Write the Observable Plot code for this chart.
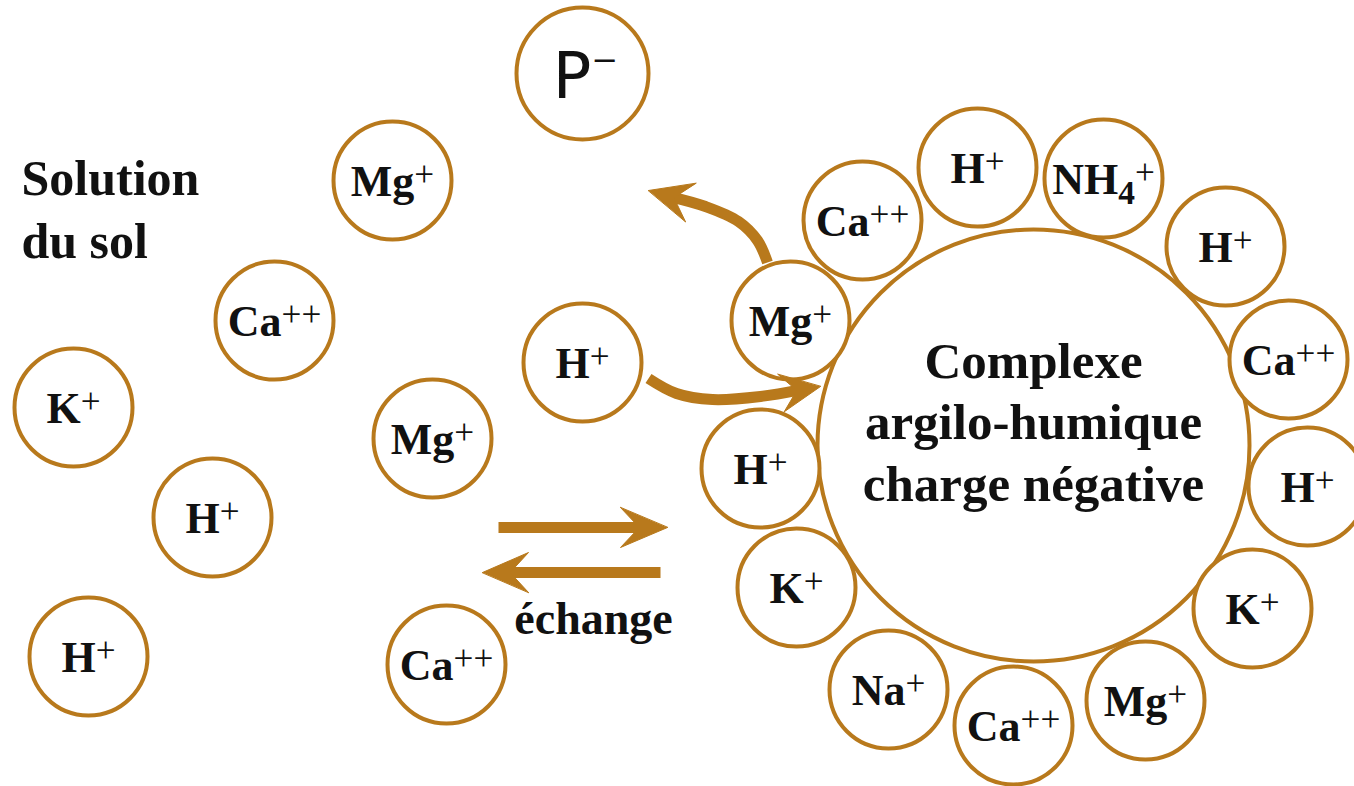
<!DOCTYPE html>
<html><head><meta charset="utf-8">
<script src="https://cdn.jsdelivr.net/npm/d3@7"></script>
<script src="https://cdn.jsdelivr.net/npm/@observablehq/plot@0.6"></script>
<style>body{margin:0;background:#fff}</style>
</head><body><div id="chart"></div>
<script>
// Ions dissolved in the soil solution (left part)
const solutionIons = ["Mg^+","Ca^++","K^+","H^+","H^+","Mg^+","H^+","Ca^++"];
const solutionX = [392, 274, 73, 212, 88, 432, 582, 446];
const solutionY = [180, 320, 407, 517, 656, 438, 362, 664];

// Ions adsorbed around the clay-humus complex
const ringIons = ["Mg^+","Ca^++","H^+","NH_4^+","H^+","Ca^++","H^+","K^+","Mg^+","Ca^++","Na^+","K^+","H^+"];
const ringX = [790, 862, 977, 1103, 1225, 1288, 1307, 1252, 1145, 1013, 888, 796, 760];
const ringY = [320, 220, 167, 178, 246, 359, 486, 608, 700, 725, 689, 587, 468];

// Complex and phosphate anion
const complexX = [1033], complexY = [445];
const complexLabel = ["Complexe\nargilo-humique\ncharge négative"];
const phosphateLabel = ["P^−"], phosphateX = [582], phosphateY = [73];

// Titles
const solutionTitle = ["Solution\ndu sol"];
const exchangeLabel = ["échange"];

// Arrows (paths end at the tip)
const arrowIds = ["out", "in", "forward", "back"];
const arrowPaths = [
  [[767,262],[757,240],[738,221],[705,206],[648,190]],
  [[648,378],[676,393],[712,399],[760,396],[820,386]],
  [[498,527],[667,527]],
  [[660,572],[482,572]]
];
const headLength = [44, 40, 47, 46];
const headWidth = [20, 19, 20, 20];

const color = "#b8791c";
const ink = "#111";

const circles = (labels, xs, ys) => labels.map((l, i) => ({label: l, x: xs[i], y: ys[i]}));
const solution = circles(solutionIons, solutionX, solutionY);
const ring = circles(ringIons, ringX, ringY);
const complex = circles(complexLabel, complexX, complexY);
const phosphate = circles(phosphateLabel, phosphateX, phosphateY);

// Build shafts and heads
const shafts = [], heads = [];
arrowPaths.forEach((pts, i) => {
  const id = arrowIds[i];
  const tip = pts[pts.length - 1], prev = pts[pts.length - 2];
  let dx = tip[0] - prev[0], dy = tip[1] - prev[1];
  const len = Math.hypot(dx, dy); dx /= len; dy /= len;
  const nx = -dy, ny = dx;
  const L = headLength[i], W = headWidth[i];
  const end = [tip[0] - 0.55 * L * dx, tip[1] - 0.55 * L * dy];
  pts.slice(0, -1).forEach(p => shafts.push({id, x: p[0], y: p[1]}));
  shafts.push({id, x: end[0], y: end[1]});
  const poly = [
    tip,
    [tip[0] - L * dx + W * nx, tip[1] - L * dy + W * ny],
    [tip[0] - 0.6 * L * dx, tip[1] - 0.6 * L * dy],
    [tip[0] - L * dx - W * nx, tip[1] - L * dy - W * ny]
  ];
  poly.forEach(p => heads.push({id, x: p[0], y: p[1]}));
});

const serif = "'Liberation Serif', 'Times New Roman', serif";

const chart = Plot.plot({
  width: 1354,
  height: 786,
  margin: 0,
  style: {background: "#fff"},
  x: {domain: [0, 1354], range: [0, 1354], axis: null},
  y: {domain: [0, 786], range: [0, 786], axis: null},
  marks: [
    Plot.dot(complex, {x: "x", y: "y", r: 216, fill: "#fff", stroke: color, strokeWidth: 4}),
    Plot.dot(ring, {x: "x", y: "y", r: 59, fill: "#fff", stroke: color, strokeWidth: 4}),
    Plot.dot(solution, {x: "x", y: "y", r: 59, fill: "#fff", stroke: color, strokeWidth: 4}),
    Plot.dot(phosphate, {x: "x", y: "y", r: 66, fill: "#fff", stroke: color, strokeWidth: 4}),
    Plot.line(shafts, {x: "x", y: "y", z: "id", stroke: color, strokeWidth: 11, strokeLinecap: "butt", curve: "catmull-rom"}),
    Plot.line(heads, {x: "x", y: "y", z: "id", fill: color, stroke: color, strokeWidth: 1, curve: "linear-closed"}),
    Plot.text(ring.concat(solution), {x: "x", y: (d) => d.y + 15, text: "label", fontFamily: serif, fontWeight: "bold", fontSize: 44, fill: ink, textAnchor: "middle", lineAnchor: "bottom"}),
    Plot.text(phosphate, {x: (d) => d.x + 3, y: (d) => d.y + 24, text: "label", fontFamily: "'DejaVu Sans', sans-serif", fontSize: 64, fill: ink, textAnchor: "middle", lineAnchor: "bottom"}),
    Plot.text(complex, {x: "x", y: (d) => d.y + 55, text: "label", fontFamily: serif, fontWeight: "bold", fontSize: 51, lineHeight: 1.2, fill: ink, textAnchor: "middle", lineAnchor: "bottom"}),
    Plot.text(solutionTitle, {x: 21, y: 257, text: (d) => d, fontFamily: serif, fontWeight: "bold", fontSize: 50, lineHeight: 1.26, fill: ink, textAnchor: "start", lineAnchor: "bottom"}),
    Plot.text(exchangeLabel, {x: 593, y: 633, text: (d) => d, fontFamily: serif, fontWeight: "bold", fontSize: 46, fill: ink, textAnchor: "middle", lineAnchor: "bottom"})
  ]
});

// Superscripts / subscripts as real tspans
function script(el, fs, supShift, supSize, subShift, subSize) {
  const s = el.textContent;
  const m = s.match(/^[^_^]+/);
  if (!m) return;
  const base = m[0];
  const tokens = [...s.slice(base.length).matchAll(/([_^])([^_^]+)/g)];
  if (!tokens.length) return;
  while (el.firstChild) el.removeChild(el.firstChild);
  el.appendChild(document.createTextNode(base));
  let cur = 0;
  tokens.forEach(t => {
    const sup = t[1] === "^";
    const target = sup ? -supShift * fs : subShift * fs;
    const ts = document.createElementNS("http://www.w3.org/2000/svg", "tspan");
    ts.setAttribute("font-size", (sup ? supSize : subSize) * fs);
    if (sup) ts.setAttribute("font-weight", "normal");
    ts.setAttribute("dy", target - cur);
    ts.textContent = t[2];
    el.appendChild(ts);
    cur = target;
  });
}
chart.querySelectorAll("text").forEach(el => {
  const s = el.textContent;
  if (!/[_^]/.test(s)) return;
  if (s.startsWith("P")) script(el, 64, 0.42, 0.5, 0, 1);
  else script(el, 44, 0.22, 0.8, 0.24, 0.76);
});

document.getElementById("chart").appendChild(chart);
</script>
</body></html>
